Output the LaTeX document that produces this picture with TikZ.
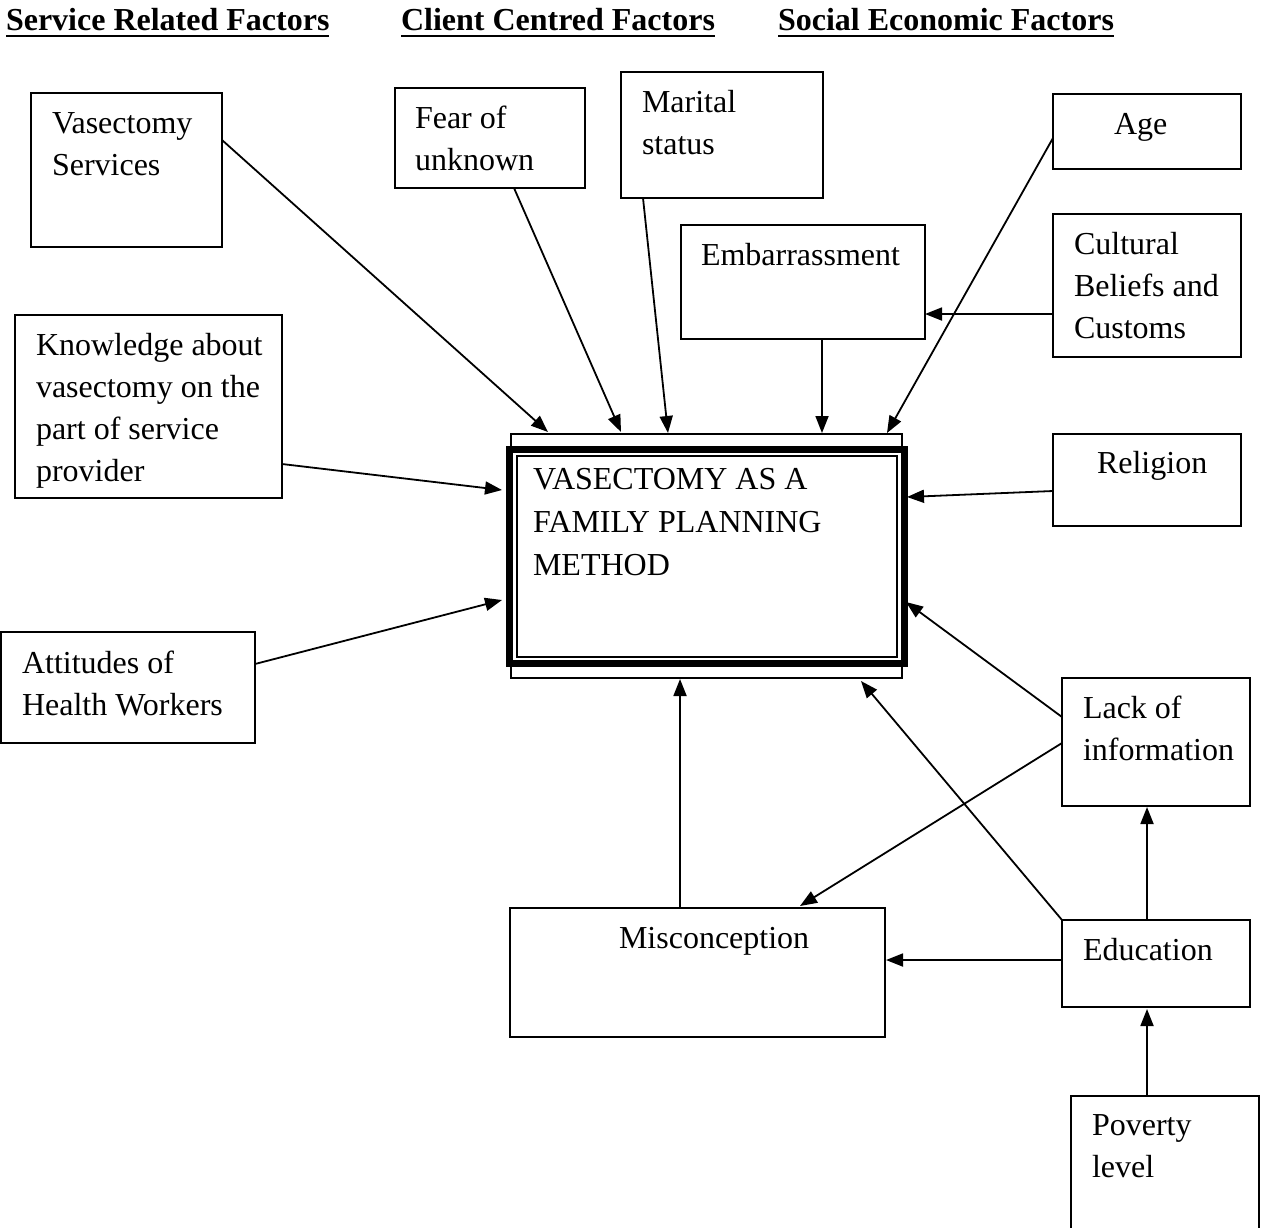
\documentclass[tikz,border=0pt]{standalone}
\usepackage{fontspec}
\setmainfont{Liberation Serif}
\usetikzlibrary{arrows.meta,calc}
\newcommand{\firstln}{\rule{0pt}{24pt}}
\tikzset{
  box/.style={draw, line width=1.8pt, rectangle, inner sep=0pt, outer sep=0pt, anchor=north west},
  txt/.style={anchor=north west, inner sep=0pt, outer sep=0pt, font=\fontsize{32}{42}\selectfont, align=left},
  arr/.style={line width=1.8pt, -{Triangle[length=17pt,width=13pt]}},
  hdr/.style={anchor=base west, inner sep=0pt, outer sep=0pt, font=\fontsize{32}{38}\selectfont\bfseries},
  uline/.style={line width=2.6pt},
}
\begin{document}
\begin{tikzpicture}[x=1pt,y=-1pt]
\clip (0,0) rectangle (1266,1227);
\fill[white] (0,0) rectangle (1266,1227);

% headers
\node[hdr] (h1) at (6,30) {Service Related Factors};
\node[hdr] (h2) at (401,30) {Client Centred Factors};
\node[hdr] (h3) at (778,30) {Social Economic Factors};
\draw[uline] ($(h1.base west)+(0,6)$) -- ($(h1.base east)+(0,6)$);
\draw[uline] ($(h2.base west)+(0,6)$) -- ($(h2.base east)+(0,6)$);
\draw[uline] ($(h3.base west)+(0,6)$) -- ($(h3.base east)+(0,6)$);

% boxes
\node[box, minimum width=191pt, minimum height=154pt] (vs) at (31,93) {};
\node[box, minimum width=190pt, minimum height=100pt] (fear) at (395,88) {};
\node[box, minimum width=202pt, minimum height=126pt] (marital) at (621,72) {};
\node[box, minimum width=188pt, minimum height=75pt] (age) at (1053,94) {};
\node[box, minimum width=244pt, minimum height=114pt] (emb) at (681,225) {};
\node[box, minimum width=188pt, minimum height=143pt] (cult) at (1053,214) {};
\node[box, minimum width=267pt, minimum height=183pt] (know) at (15,315) {};
\node[box, minimum width=188pt, minimum height=92pt] (rel) at (1053,434) {};
\node[box, minimum width=254pt, minimum height=111pt] (att) at (1,632) {};
\node[box, minimum width=188pt, minimum height=128pt] (lack) at (1062,678) {};
\node[box, minimum width=375pt, minimum height=129pt] (mis) at (510,908) {};
\node[box, minimum width=188pt, minimum height=87pt] (edu) at (1062,920) {};
\node[box, minimum width=188pt, minimum height=160pt] (pov) at (1071,1096) {};

% central box
\node[box, line width=1.6pt, minimum width=391pt, minimum height=244pt] (main) at (511,434) {};
\node[box, line width=7pt, fill=white, minimum width=395pt, minimum height=214pt] (mainthick) at (509.5,449) {};
\node[box, line width=1.4pt, minimum width=380pt, minimum height=201pt] (maininner) at (517,456) {};

% texts
\node[txt] (tvs) at (52,109) {\firstln Vasectomy\\Services};
\node[txt] (tfear) at (415,104) {\firstln Fear of\\unknown};
\node[txt] (tmar) at (642,88) {\firstln Marital\\status};
\node[txt] (tage) at (1114,110) {\firstln Age};
\node[txt] (temb) at (701,241) {\firstln Embarrassment};
\node[txt] (tcult) at (1074,230) {\firstln Cultural\\Beliefs and\\Customs};
\node[txt] (tknow) at (36,331) {\firstln Knowledge about\\vasectomy on the\\part of service\\provider};
\node[txt] (trel) at (1097,449) {\firstln Religion};
\node[txt] (tatt) at (22,649) {\firstln Attitudes of\\Health Workers};
\node[txt] (tlack) at (1083,694) {\firstln Lack of\\information};
\node[txt] (tmis) at (619,924) {\firstln Misconception};
\node[txt] (tedu) at (1083,936) {\firstln Education};
\node[txt] (tpov) at (1092,1111) {\firstln Poverty\\level};
\node[txt, font=\fontsize{32}{43}\selectfont] (tmain) at (533,465) {\firstln VASECTOMY AS A\\FAMILY PLANNING\\METHOD};

% connectors
\draw[arr] ($(vs.north east)+(0,47)$) -- ($(main.north west)+(37,-2)$);
\draw[arr] ($(fear.south west)+(119,0)$) -- ($(main.north west)+(110,-2)$);
\draw[arr] ($(marital.south west)+(22,0)$) -- ($(main.north west)+(157,-1)$);
\draw[arr] ($(emb.south west)+(141,0)$) -- ($(main.north west)+(311,-1)$);
\draw[arr] ($(age.north west)+(0,44)$) -- ($(main.north west)+(376,-1)$);
\draw[arr] ($(cult.north west)+(0,100)$) -- ($(emb.north east)+(0,89)$);
\draw[arr] ($(rel.north west)+(0,57)$) -- ($(main.north east)+(5,63)$);
\draw[arr] ($(know.north east)+(0,149)$) -- ($(main.north west)+(-9,56)$);
\draw[arr] ($(att.north east)+(0,32)$) -- ($(main.north west)+(-9,166)$);
\draw[arr] ($(lack.north west)+(0,39)$) -- ($(main.north east)+(4,168)$);
\draw[arr] ($(lack.north west)+(0,65)$) -- ($(mis.north west)+(290,-2)$);
\draw[arr] (edu.north west) -- ($(main.south west)+(350,3)$);
\draw[arr] ($(edu.north west)+(0,40)$) -- ($(mis.north east)+(1,52)$);
\draw[arr] ($(edu.north west)+(85,0)$) -- ($(lack.south west)+(85,1)$);
\draw[arr] ($(pov.north west)+(76,0)$) -- ($(edu.south west)+(85,2)$);
\draw[arr] ($(mis.north west)+(170,0)$) -- ($(main.south west)+(169,1)$);
\end{tikzpicture}
\end{document}
